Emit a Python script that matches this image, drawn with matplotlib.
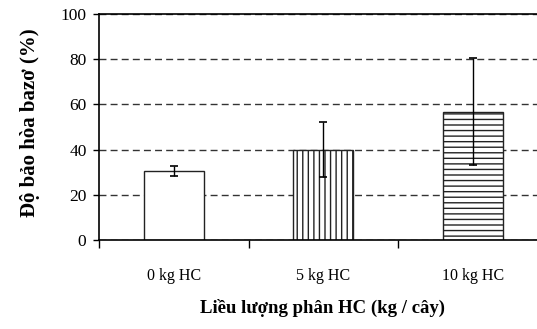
import matplotlib
matplotlib.use("Agg")
import matplotlib.pyplot as plt
import numpy as np

categories = ["0 kg HC", "5 kg HC", "10 kg HC"]
values = [30.5, 40.0, 56.8]
errors = [2.2, 12.0, 23.6]
hatches = ["", "|||", "---"]
yticks = [0, 20, 40, 60, 80, 100]

plt.rcParams["font.family"] = ["Liberation Serif", "DejaVu Serif"]
plt.rcParams["hatch.linewidth"] = 1.0
plt.rcParams["hatch.color"] = "#222222"

fig = plt.figure(figsize=(5.37, 3.29), dpi=100)
ax = fig.add_axes([99/537, 89/329, 448.5/537, 226/329])

x = np.arange(len(categories))
ax.bar(x, values, width=0.4, color="white", edgecolor="#222222", linewidth=1.0,
       hatch=hatches, zorder=3)
ax.errorbar(x, values, yerr=errors, fmt="none", ecolor="black", elinewidth=1.0,
            capsize=3.2, capthick=1.2, zorder=4)

ax.set_xlim(-0.5, 2.5)
ax.set_ylim(0, 100)
ax.set_yticks(yticks)
ax.set_yticklabels([str(v) for v in yticks], fontsize=12.5)
ax.set_xticks(x)
ax.set_xticklabels(categories, fontsize=11.5)
ax.set_xticks([-0.5, 0.5, 1.5, 2.5], minor=True)
ax.tick_params(axis="x", which="major", length=0, pad=20)
ax.tick_params(axis="x", which="minor", length=5.5, width=1, direction="out")
ax.tick_params(axis="y", length=4, width=1, direction="out", pad=5)

ax.yaxis.grid(True, linestyle=(0, (5, 3)), color="#333333", linewidth=1.0, zorder=0)
ax.set_axisbelow(True)
for s in ["left", "bottom", "top", "right"]:
    ax.spines[s].set_linewidth(1.2)
    ax.spines[s].set_color("black")
    ax.spines[s].set_zorder(5)

ax.set_ylabel("Độ bảo hòa bazơ (%)", fontsize=15, fontweight="bold")
ax.yaxis.set_label_coords(-59/448.5, 0.52)
ax.set_xlabel("Liều lượng phân HC (kg / cây)", fontsize=13.5, fontweight="bold")
ax.xaxis.set_label_coords(224/448.5, -59/226)

fig.savefig("out.png", dpi=100)
